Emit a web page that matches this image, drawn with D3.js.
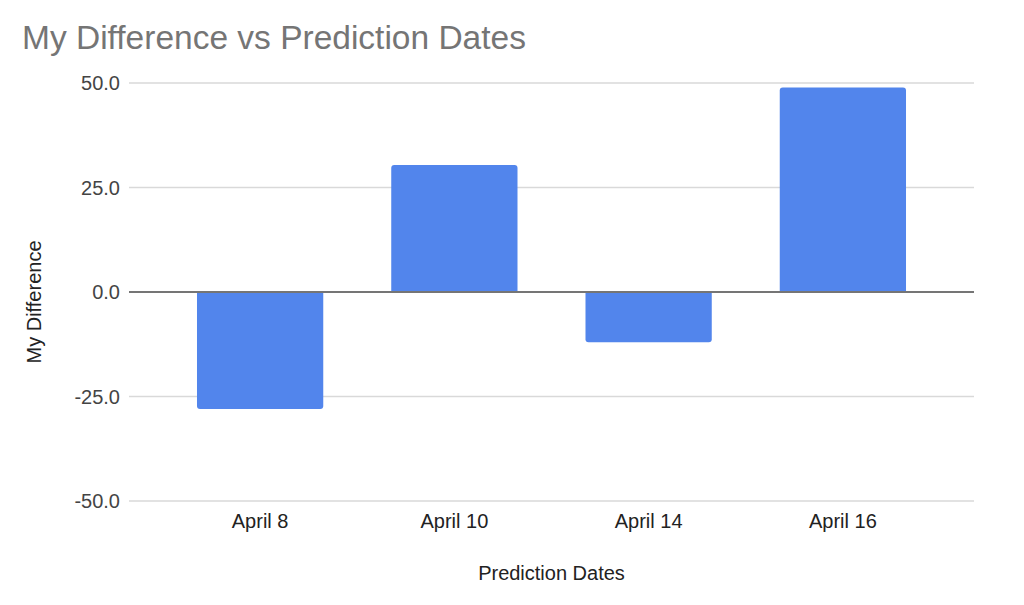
<!DOCTYPE html>
<html>
<head>
<meta charset="utf-8">
<script src="https://cdn.jsdelivr.net/npm/d3@7"></script>
<style>
  body { margin: 0; background: #fff; }
  text { font-family: "Liberation Sans", Arial, sans-serif; }
</style>
</head>
<body>
<script>
// chart data
const dates = ["April 8", "April 10", "April 14", "April 16"];
const differences = [-28.0, 30.4, -12.0, 48.9];
const yTicks = [-50, -25, 0, 25, 50];

const width = 1024, height = 605;
const plotLeft = 129, plotRight = 974, plotTop = 83, plotBottom = 501;

const svg = d3.select("body")
              .append("svg")
              .attr("width", width)
              .attr("height", height);

const x = d3.scaleBand()
            .domain(dates)
            .range([plotLeft, plotRight])
            .padding(0.35);

const y = d3.scaleLinear()
            .domain([-50, 50])
            .range([plotBottom, plotTop]);

// plain hyphen for negatives, like the original
const fmt = d3.formatLocale({decimal: ".", thousands: ",", grouping: [3], currency: ["", ""], minus: "-"})
              .format(".1f");

// gridlines
svg.append("g")
   .selectAll("line")
   .data(yTicks.filter(d => d !== 0))
   .enter()
   .append("line")
   .attr("x1", plotLeft)
   .attr("x2", plotRight)
   .attr("y1", d => y(d))
   .attr("y2", d => y(d))
   .style("stroke", "#d9d9d9")
   .style("stroke-width", 1.5);

// y tick labels
svg.append("g")
   .selectAll("text")
   .data(yTicks)
   .enter()
   .append("text")
   .attr("x", plotLeft - 9)
   .attr("y", d => y(d))
   .attr("dy", "0.36em")
   .attr("text-anchor", "end")
   .style("font-size", "20px")
   .style("fill", "#444")
   .text(d => fmt(d));

// bars, rounded at the far end
const r = 3;
function barPath(d, i) {
    const x0 = x(dates[i]), x1 = x0 + x.bandwidth();
    const y0 = y(0), y1 = y(d);
    const s = d >= 0 ? 1 : -1;
    return `M${x0},${y0} L${x0},${y1 + s * r} Q${x0},${y1} ${x0 + r},${y1}` +
           ` L${x1 - r},${y1} Q${x1},${y1} ${x1},${y1 + s * r} L${x1},${y0} Z`;
}

svg.append("g")
   .selectAll("path")
   .data(differences)
   .enter()
   .append("path")
   .attr("d", barPath)
   .style("fill", "#5285ec");

// zero line
svg.append("line")
   .attr("x1", plotLeft)
   .attr("x2", plotRight)
   .attr("y1", y(0))
   .attr("y2", y(0))
   .style("stroke", "#757575")
   .style("stroke-width", 2);

// x tick labels
svg.append("g")
   .selectAll("text")
   .data(dates)
   .enter()
   .append("text")
   .attr("x", d => x(d) + x.bandwidth() / 2)
   .attr("y", 528)
   .attr("text-anchor", "middle")
   .style("font-size", "20px")
   .style("fill", "#222")
   .text(d => d);

// titles
svg.append("text")
   .attr("x", 22)
   .attr("y", 49)
   .style("font-size", "33.5px")
   .style("fill", "#757575")
   .text("My Difference vs Prediction Dates");

svg.append("text")
   .attr("x", (plotLeft + plotRight) / 2)
   .attr("y", 580)
   .attr("text-anchor", "middle")
   .style("font-size", "20px")
   .style("fill", "#222")
   .text("Prediction Dates");

svg.append("text")
   .attr("transform", "translate(41,302) rotate(-90)")
   .attr("text-anchor", "middle")
   .style("font-size", "20px")
   .style("fill", "#222")
   .text("My Difference");
</script>
</body>
</html>
